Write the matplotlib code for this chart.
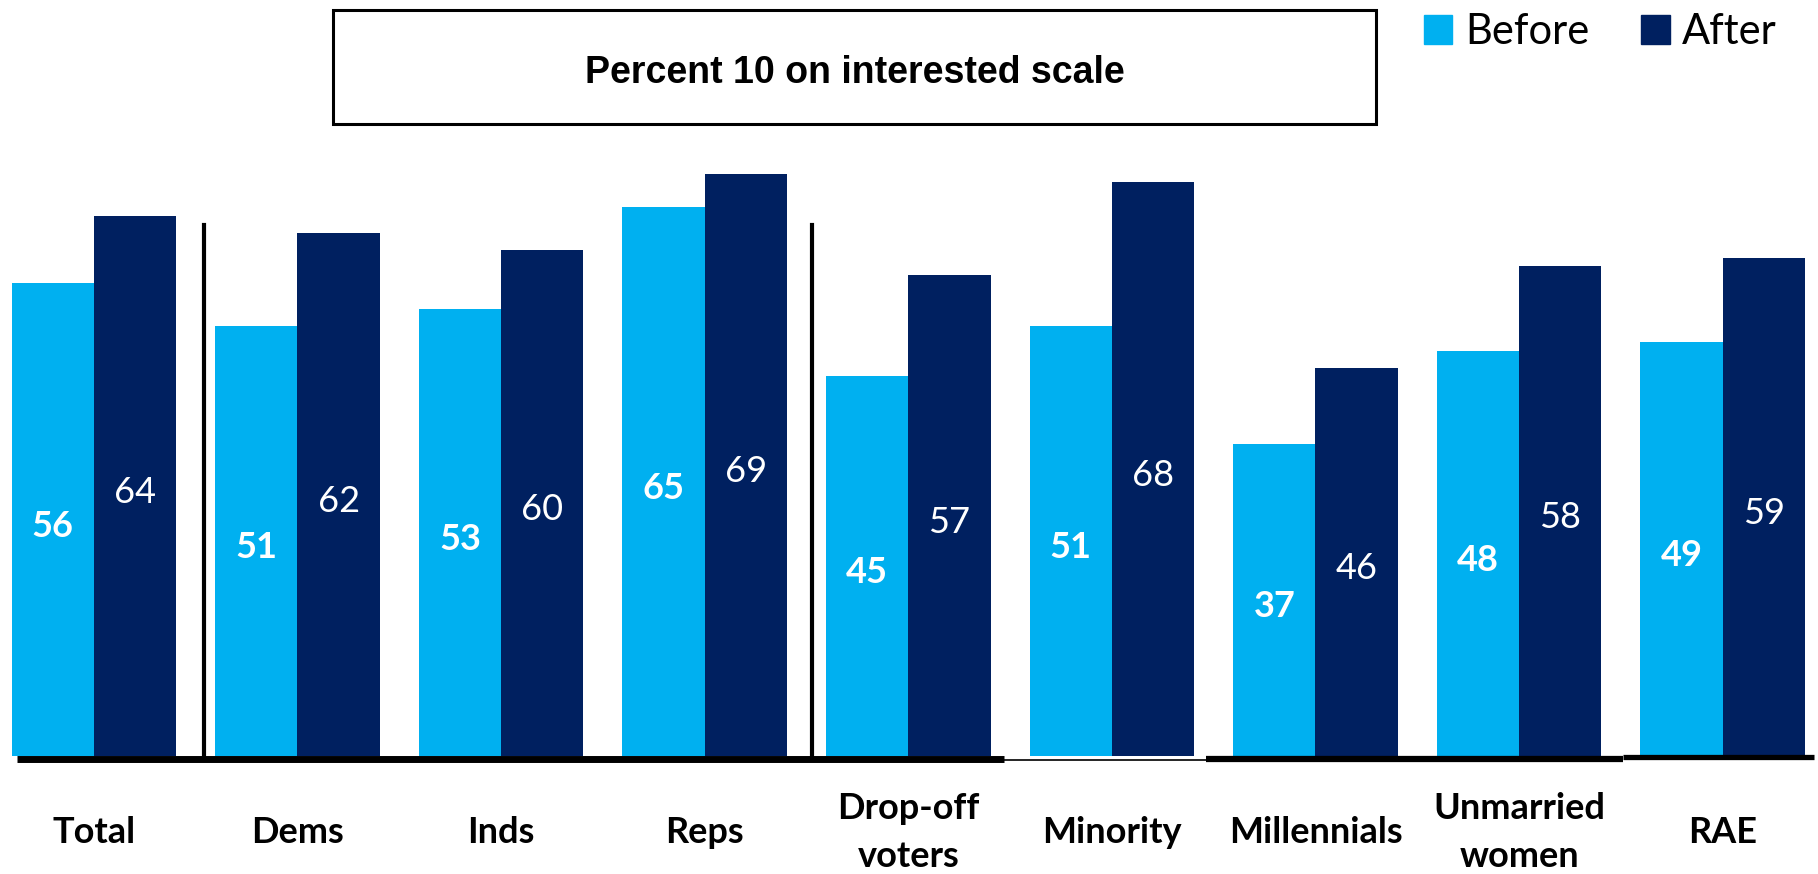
import numpy as np
import matplotlib.pyplot as plt
from matplotlib.patches import Patch, Rectangle

# Share who put themselves at 10 on the interest scale
categories = ['Total', 'Dems', 'Inds', 'Reps', 'Drop-off\nvoters', 'Minority',
              'Millennials', 'Unmarried\nwomen', 'RAE']
before = [56, 51, 53, 65, 45, 51, 37, 48, 49]
after = [64, 62, 60, 69, 57, 68, 46, 58, 59]

light = '#00B0F0'
dark = '#002060'

fig = plt.figure(figsize=(18.18, 8.74), dpi=100)
ax = fig.add_axes([0, 0, 1, 1])

x = np.arange(len(categories))
w = 0.404
b1 = ax.bar(x - w / 2, before, w, color=light)
b2 = ax.bar(x + w / 2, after, w, color=dark)

for xi, v in zip(x, before):
    ax.text(xi - w / 2, v / 2 - 0.8, str(v), ha='center', va='center', color='white',
            fontsize=26, fontweight='bold', family='Lato')
for xi, v in zip(x, after):
    ax.text(xi + w / 2, v / 2 - 0.8, str(v), ha='center', va='center', color='white',
            fontsize=26, family='Lato')

# category labels under the baseline
for xi, lab in zip(x, categories):
    ax.text(xi, -9.1, lab, ha='center', va='center', fontsize=26,
            fontweight='bold', family='Lato', linespacing=1.55)

# baseline pieces and group dividers
ax.plot([-0.376, 4.47], [-0.3, -0.3], color='black', lw=5, solid_capstyle='butt')
ax.plot([4.47, 5.46], [-0.5, -0.5], color='black', lw=1.2, solid_capstyle='butt')
ax.plot([5.46, 7.51], [-0.35, -0.35], color='black', lw=4.5, solid_capstyle='butt')
ax.plot([7.51, 8.45], [-0.1, -0.1], color='black', lw=3.8, solid_capstyle='butt')
for sx in [0.541, 3.525]:
    ax.plot([sx, sx], [0, 62.9], color='black', lw=3)

ax.set_xlim(-0.461, 8.468)
ax.set_ylim(-13.98, 89.57)
ax.axis('off')

# boxed title
fig.patches.append(Rectangle((0.183, 0.858), 0.574, 0.131, transform=fig.transFigure,
                             fill=False, edgecolor='black', lw=2.2))
fig.text(0.47, 0.917, 'Percent 10 on interested scale', ha='center', va='center',
         fontsize=27, fontweight='bold', family='Liberation Sans')

handles = [Patch(color=light, label='Before'), Patch(color=dark, label='After')]
fig.legend(handles=handles, loc='upper right', bbox_to_anchor=(0.998, 1.028), ncol=2,
           frameon=False, prop={'family': 'Lato', 'size': 30},
           handlelength=0.68, handleheight=0.68, handletextpad=0.3, columnspacing=1.25)

fig.savefig('out.png', dpi=100)
